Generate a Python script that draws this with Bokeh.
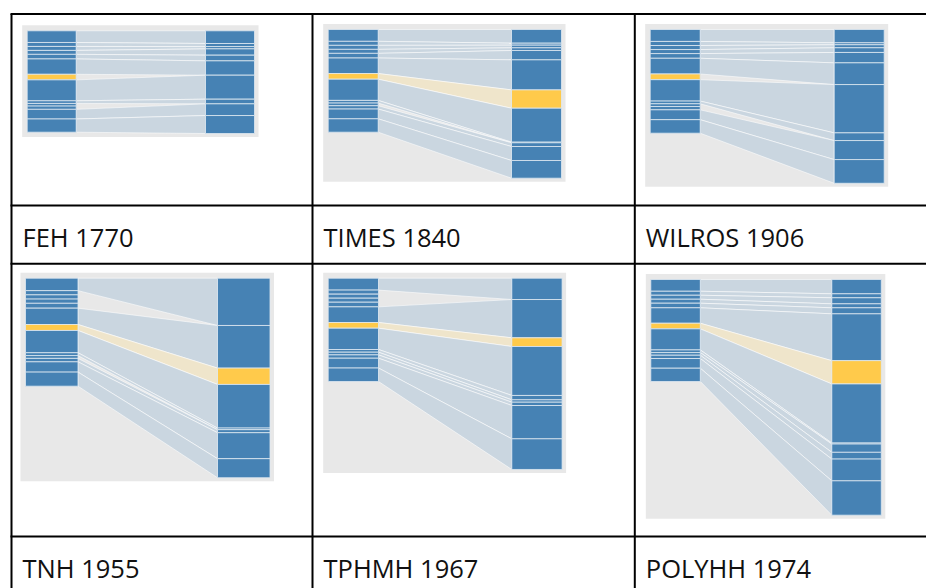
from bokeh.plotting import figure
from bokeh.models import Range1d
from bokeh.core.properties import value
from bokeh.embed import file_html
from bokeh.resources import INLINE

# ---------------- data ----------------
titles = ["FEH 1770", "TIMES 1840", "WILROS 1906", "TNH 1955", "TPHMH 1967", "POLYHH 1974"]

# 13 categories, top to bottom; the 7th (index 6) is the highlighted one
left_values = [11.5, 3.9, 3.9, 3.9, 4.5, 15.1, 5.5, 20.6, 2.6, 2.6, 3.2, 9.5, 13.0]
highlight_index = 6

right_feh_1770 = [12.5, 3.0, 2.3, 6.2, 5.6, 14.1, 0.0, 23.6, 4.6, 0.0, 0.0, 11.5, 17.7]
right_times_1840 = [13.3, 1.9, 2.6, 2.6, 9.1, 29.2, 17.8, 33.0, 0.6, 0.0, 3.6, 13.6, 17.2]
right_wilros_1906 = [12.8, 1.9, 2.9, 4.5, 10.0, 20.9, 0.0, 46.5, 7.4, 0.0, 0.0, 18.3, 22.8]
right_tnh_1955 = [43.7, 0.0, 0.0, 0.0, 0.0, 39.4, 15.1, 40.3, 1.5, 0.0, 2.8, 24.0, 17.6]
right_tphmh_1967 = [20.6, 0.0, 0.0, 0.0, 0.0, 37.0, 8.4, 47.3, 4.2, 2.3, 3.2, 32.2, 29.6]
right_polyhh_1974 = [14.0, 3.9, 5.9, 3.9, 5.9, 45.8, 22.8, 57.8, 1.0, 8.1, 6.6, 21.3, 33.6]

right_series = [right_feh_1770, right_times_1840, right_wilros_1906,
                right_tnh_1955, right_tphmh_1967, right_polyhh_1974]

# ---------------- layout (pixels) ----------------
# per panel: left bar x, right bar x, bar width, top y, pixels per unit
panels = [
    dict(lx=26.7, rx=205.0, bw=49.0, top=30.3, s=1.016),
    dict(lx=327.7, rx=511.0, bw=50.0, top=29.0, s=1.029),
    dict(lx=649.7, rx=833.7, bw=50.0, top=29.0, s=1.039),
    dict(lx=25.0, rx=217.0, bw=52.5, top=277.7, s=1.082),
    dict(lx=327.7, rx=511.3, bw=50.3, top=277.7, s=1.035),
    dict(lx=650.3, rx=831.3, bw=49.5, top=279.0, s=1.022),
]
col_lines = [11, 312, 634.3]
row_lines = [13.5, 205, 263.3, 536]
label_rows = [205, 536]

W, H = 926, 588
BG = "#e8e8e8"
BAR = "#4682b4"
HI = "#ffca4b"
FLOW = "#cad6e0"
FLOW_HI = "#efe5cb"

p = figure(width=W, height=H, x_range=Range1d(0, W), y_range=Range1d(H, 0),
           output_backend="svg", toolbar_location=None, min_border=0,
           x_axis_type=None, y_axis_type=None)
p.grid.visible = False
p.outline_line_color = None
p.background_fill_color = "white"
p.border_fill_color = "white"


def cum(vals):
    out = [0.0]
    for v in vals:
        out.append(out[-1] + v)
    return out


for k, (lay, right_values) in enumerate(zip(panels, right_series)):
    lx, rx, bw, top, s = lay["lx"], lay["rx"], lay["bw"], lay["top"], lay["s"]
    lc = cum(left_values)
    rc = cum(right_values)
    ly = [top + s * c for c in lc]
    ry = [top + s * c for c in rc]
    bottom = max(ly[-1], ry[-1])
    # background
    p.quad(left=[lx - 5], right=[rx + bw + 4], top=[top - 5.5], bottom=[bottom + 3.5],
           fill_color=BG, line_color=None)
    # flows
    xs, ys, cols = [], [], []
    for i in range(len(left_values)):
        if right_values[i] <= 0:
            continue
        xs.append([lx + bw, rx, rx, lx + bw])
        ys.append([ly[i], ry[i], ry[i + 1], ly[i + 1]])
        cols.append(FLOW_HI if i == highlight_index else FLOW)
    p.patches(xs=xs, ys=ys, fill_color=cols, line_color="white", line_alpha=0.55, line_width=1)
    # bars
    n = len(left_values)
    bar_cols = [HI if i == highlight_index else BAR for i in range(n)]
    p.quad(left=[lx] * n, right=[lx + bw] * n, top=ly[:-1], bottom=ly[1:],
           fill_color=bar_cols, line_color="#dfe8f1", line_width=1, line_alpha=0.8)
    ridx = [i for i in range(n) if right_values[i] > 0]
    p.quad(left=[rx] * len(ridx), right=[rx + bw] * len(ridx),
           top=[ry[i] for i in ridx], bottom=[ry[i + 1] for i in ridx],
           fill_color=[bar_cols[i] for i in ridx], line_color="#dfe8f1", line_width=1, line_alpha=0.8)

# table lines
for y in row_lines:
    p.segment(x0=[col_lines[0] - 1], y0=[y], x1=[W], y1=[y], line_color="black", line_width=2)
for x in col_lines:
    p.segment(x0=[x], y0=[row_lines[0]], x1=[x], y1=[H], line_color="black", line_width=2)

# labels
lab_x, lab_y = [], []
for k, t in enumerate(titles):
    r, c = divmod(k, 3)
    lab_x.append(col_lines[c] + 11)
    lab_y.append(label_rows[r] + 31)
p.text(x=lab_x, y=lab_y, text=titles, text_font=value("Open Sans"), text_font_size="25.5px",
       text_color="#111111", text_baseline="alphabetic", text_align="left")

open("out.html", "w").write(file_html(p, INLINE))
